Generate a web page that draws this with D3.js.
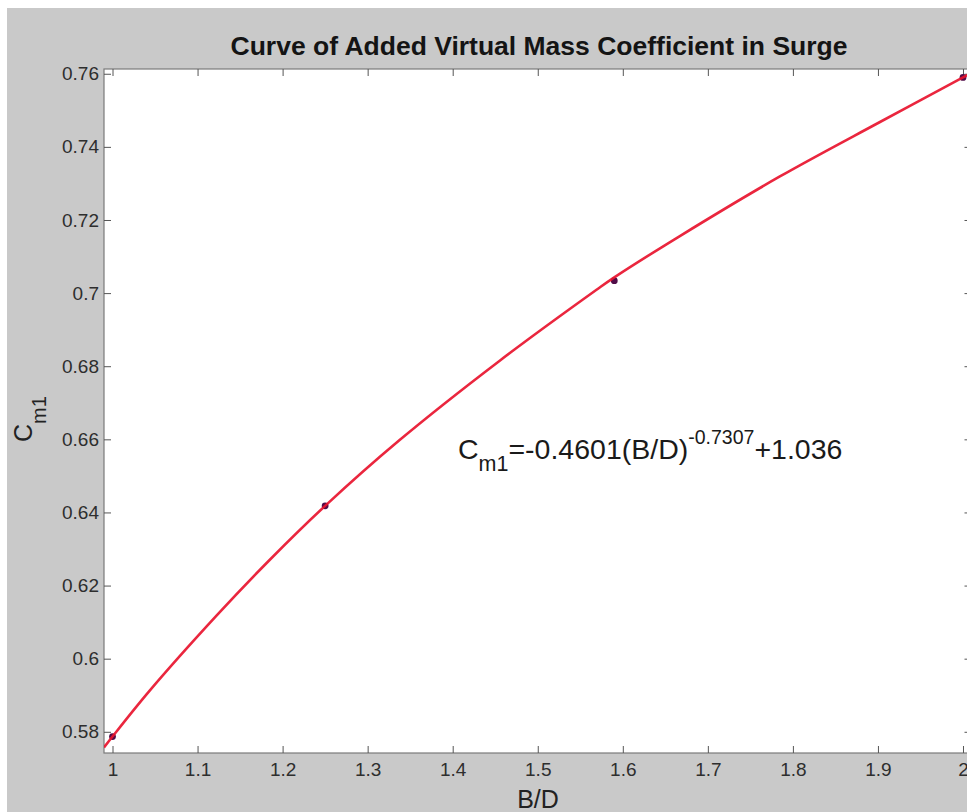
<!DOCTYPE html>
<html>
<head>
<meta charset="utf-8">
<script src="https://cdn.jsdelivr.net/npm/d3@7"></script>
<style>
  html, body { margin: 0; padding: 0; background: #ffffff; }
  svg { display: block; }
  text { font-family: "Liberation Sans", Arial, sans-serif; }
</style>
</head>
<body>
<svg id="chart" width="967" height="812"></svg>
<script>
// Measured sample points (B/D vs. C_m1)
const markerBD = [1.0, 1.25, 1.59, 2.0];
const markerCm = [0.5787, 0.6418, 0.7034, 0.7590];

// Fitted curve, traced along its length
const curveBD = [0.99, 1.0, 1.0435, 1.122, 1.1847, 1.25, 1.3376, 1.4553, 1.5691, 1.59, 1.6671, 1.7847, 1.9024, 2.0, 2.01];
const curveCm = [0.5757, 0.5787, 0.5912, 0.6117, 0.6270, 0.6418, 0.6598, 0.6815, 0.7009, 0.7043, 0.7156, 0.7319, 0.7468, 0.7590, 0.7602];

// Axis ticks
const xTicks = [1, 1.1, 1.2, 1.3, 1.4, 1.5, 1.6, 1.7, 1.8, 1.9, 2];
const xTickLabels = ["1", "1.1", "1.2", "1.3", "1.4", "1.5", "1.6", "1.7", "1.8", "1.9", "2"];
const yTicks = [0.58, 0.6, 0.62, 0.64, 0.66, 0.68, 0.7, 0.72, 0.74, 0.76];
const yTickLabels = ["0.58", "0.6", "0.62", "0.64", "0.66", "0.68", "0.7", "0.72", "0.74", "0.76"];

const titleText = "Curve of Added Virtual Mass Coefficient in Surge";

const svg = d3.select("#chart");
const W = 967, H = 812;

// figure background
svg.append("rect").attr("x", 7).attr("y", 8).attr("width", W - 7).attr("height", H - 8)
  .attr("fill", "#c9c9c9");

const plot = { left: 104, top: 69, right: 971.5, bottom: 753 };

const x = d3.scaleLinear().domain([0.99, 2.01]).range([plot.left, plot.right]);
const y = d3.scaleLinear().domain([0.5742, 0.7613]).range([plot.bottom, plot.top]);

// axes area
svg.append("rect")
  .attr("x", plot.left).attr("y", plot.top)
  .attr("width", plot.right - plot.left).attr("height", plot.bottom - plot.top)
  .attr("fill", "#ffffff").attr("stroke", "#7a7a7a").attr("stroke-width", 1.2);

const tickLen = 7;
const tickColor = "#555";
const labelColor = "#2e2e2e";

function styleAxis(g) {
  g.select(".domain").remove();
  g.selectAll(".tick line").attr("stroke", tickColor).attr("stroke-width", 1);
  g.selectAll(".tick text").attr("fill", labelColor).style("font-size", "19px")
    .style("font-family", "'Liberation Sans', Arial, sans-serif");
}

// bottom
svg.append("g").attr("transform", `translate(0,${plot.bottom})`)
  .call(d3.axisBottom(x).tickValues(xTicks).tickSizeInner(-tickLen).tickSizeOuter(0)
    .tickPadding(10).tickFormat((d, i) => xTickLabels[i]))
  .call(styleAxis);
// top
svg.append("g").attr("transform", `translate(0,${plot.top})`)
  .call(d3.axisTop(x).tickValues(xTicks).tickSizeInner(-tickLen).tickSizeOuter(0).tickFormat(""))
  .call(styleAxis);
// left
svg.append("g").attr("transform", `translate(${plot.left},0)`)
  .call(d3.axisLeft(y).tickValues(yTicks).tickSizeInner(-tickLen).tickSizeOuter(0)
    .tickPadding(5).tickFormat((d, i) => yTickLabels[i]))
  .call(styleAxis);
// right
svg.append("g").attr("transform", `translate(${plot.right},0)`)
  .call(d3.axisRight(y).tickValues(yTicks).tickSizeInner(-tickLen).tickSizeOuter(0).tickFormat(""))
  .call(styleAxis);

// clip to the axes box
svg.append("clipPath").attr("id", "plotClip").append("rect")
  .attr("x", plot.left).attr("y", plot.top)
  .attr("width", plot.right - plot.left).attr("height", plot.bottom - plot.top);

const layer = svg.append("g").attr("clip-path", "url(#plotClip)");

// measured points
layer.selectAll("circle.pt").data(markerBD).join("circle")
  .attr("class", "pt")
  .attr("cx", (d) => x(d))
  .attr("cy", (d, i) => y(markerCm[i]))
  .attr("r", 3.4)
  .attr("fill", "#500c48");

// fitted curve
const curvePts = curveBD.map((d, i) => [d, curveCm[i]]);
layer.append("path")
  .datum(curvePts)
  .attr("fill", "none")
  .attr("stroke", "#e8142e")
  .attr("stroke-width", 2.6)
  .attr("stroke-opacity", 0.92)
  .attr("d", d3.line().x((d) => x(d[0])).y((d) => y(d[1])).curve(d3.curveCatmullRom));

// title
svg.append("text")
  .attr("x", 539).attr("y", 55)
  .attr("text-anchor", "middle")
  .attr("fill", "#141414")
  .style("font-size", "26.5px").style("font-weight", "bold")
  .text(titleText);

// x label
svg.append("text")
  .attr("x", 538).attr("y", 808)
  .attr("text-anchor", "middle")
  .attr("fill", "#222")
  .style("font-size", "25px")
  .text("B/D");

// y label  C_m1
const yl = svg.append("text")
  .attr("transform", "translate(32,442) rotate(-90)")
  .attr("fill", "#222")
  .style("font-size", "25px");
yl.append("tspan").text("C");
yl.append("tspan").attr("dy", 14).style("font-size", "20px").text("m1");

// fitted equation
const eq = svg.append("text")
  .attr("x", 458).attr("y", 459)
  .attr("fill", "#1a1a1a")
  .style("font-size", "28.5px");
eq.append("tspan").text("C");
eq.append("tspan").attr("dy", 12).style("font-size", "21.5px").text("m1");
eq.append("tspan").attr("dy", -12).text("=-0.4601(B/D)");
eq.append("tspan").attr("dy", -15).style("font-size", "19.5px").text("-0.7307");
eq.append("tspan").attr("dy", 15).text("+1.036");
</script>
</body>
</html>
